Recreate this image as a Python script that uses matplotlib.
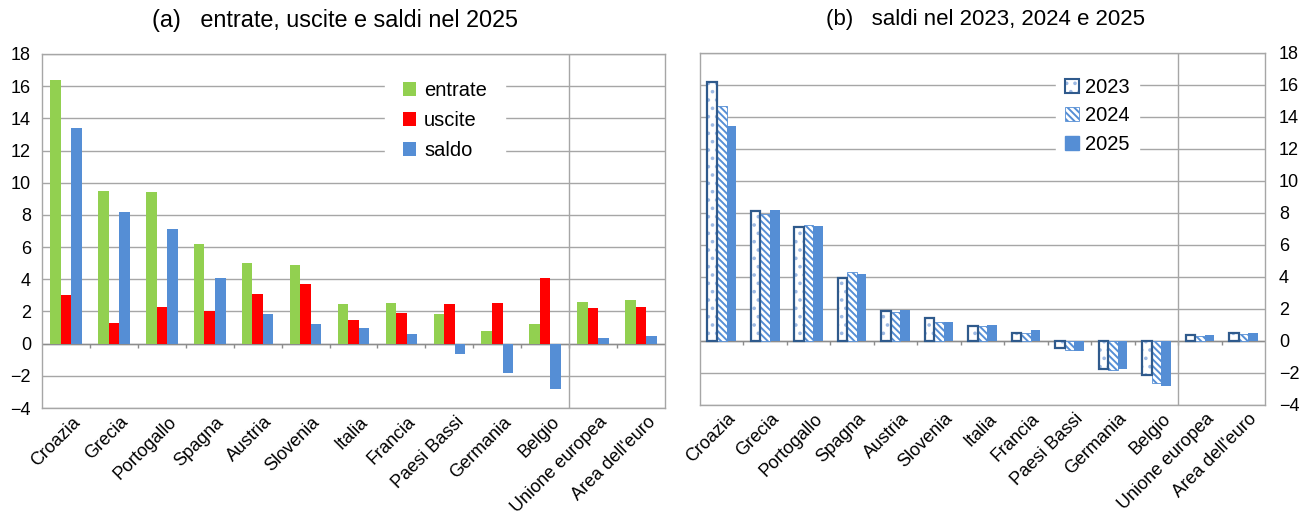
import numpy as np
import matplotlib
matplotlib.use("Agg")
import matplotlib.pyplot as plt
from matplotlib.patches import Patch

plt.rcParams['font.family'] = ['Liberation Sans', 'DejaVu Sans']
plt.rcParams['hatch.linewidth'] = 1.4

paesi = ['Croazia', 'Grecia', 'Portogallo', 'Spagna', 'Austria', 'Slovenia',
         'Italia', 'Francia', 'Paesi Bassi', 'Germania', 'Belgio',
         'Unione europea', "Area dell'euro"]

# panel (a): 2025
entrate = [16.4, 9.5, 9.45, 6.2, 5.0, 4.9, 2.45, 2.55, 1.85, 0.8, 1.25, 2.6, 2.7]
uscite = [3.0, 1.3, 2.3, 2.0, 3.1, 3.7, 1.45, 1.9, 2.45, 2.55, 4.05, 2.2, 2.25]
saldo = [13.4, 8.15, 7.1, 4.1, 1.85, 1.2, 0.95, 0.6, -0.62, -1.8, -2.8, 0.35, 0.45]

# panel (b): saldi
saldo_2023 = [16.2, 8.1, 7.1, 3.95, 1.85, 1.4, 0.95, 0.5, -0.45, -1.75, -2.15, 0.38, 0.5]
saldo_2024 = [14.65, 7.95, 7.25, 4.3, 1.8, 1.17, 0.94, 0.5, -0.55, -1.82, -2.65, 0.32, 0.45]
saldo_2025 = [13.4, 8.15, 7.15, 4.15, 1.95, 1.2, 1.0, 0.7, -0.63, -1.78, -2.82, 0.38, 0.5]

GREEN = '#92D050'
RED = '#FF0000'
BLUE = '#558ED5'
LIGHT = '#9DB9E3'
DARK = '#2F5A8C'
GRID = '#A6A6A6'


def style_axes(ax, right=False):
    ax.set_xlim(-0.5, len(paesi) - 0.5)
    ax.set_ylim(-4, 18)
    ax.set_yticks(range(-4, 19, 2))
    ax.grid(axis='y', color=GRID, linewidth=1)
    ax.set_axisbelow(True)
    for s in ax.spines.values():
        s.set_color(GRID)
        s.set_linewidth(1)
    ax.axhline(0, color='#8C8C8C', linewidth=1, zorder=1)
    bounds = np.arange(len(paesi) - 1) + 0.5
    ax.vlines(bounds, -0.25, 0, color='#8C8C8C', linewidth=1, zorder=1)
    ax.axvline(10.5, color=GRID, linewidth=1, zorder=1)
    ax.set_xticks(np.arange(len(paesi)) + 0.12)
    ax.set_xticklabels(paesi, rotation=45, ha='right', rotation_mode='anchor',
                       fontsize=13)
    ax.tick_params(axis='x', length=0, pad=4)
    ax.tick_params(axis='y', length=0, labelsize=13, pad=8)
    if right:
        ax.yaxis.tick_right()
        ax.tick_params(axis='y', pad=10)


fig = plt.figure(figsize=(13.05, 5.17), dpi=100)
ax1 = fig.add_axes([0.0322, 0.2108, 0.4774, 0.6848])
ax2 = fig.add_axes([0.5364, 0.2172, 0.4330, 0.6808])

x = np.arange(len(paesi))
w = 0.22

ax1.bar(x - w, entrate, w, color=GREEN, zorder=2, label='entrate')
ax1.bar(x, uscite, w, color=RED, zorder=2, label='uscite')
ax1.bar(x + w, saldo, w, color=BLUE, zorder=2, label='saldo')
style_axes(ax1)
ax1.legend(loc='upper left', bbox_to_anchor=(0.55, 0.975), fontsize=14.5,
           frameon=True, framealpha=1, facecolor='white', edgecolor='white',
           fancybox=False, handlelength=0.65, handleheight=0.65,
           handletextpad=0.4, labelspacing=0.55, borderpad=0.9,
           borderaxespad=0)

# panel b
ax2.bar(x - w, saldo_2023, w, facecolor='white', edgecolor=LIGHT,
        hatch='..', linewidth=0, zorder=2)
ax2.bar(x - w, saldo_2023, w, fill=False, edgecolor=DARK, linewidth=1.6, zorder=3)
ax2.bar(x, saldo_2024, w, facecolor='white', edgecolor=BLUE,
        hatch='\\\\\\\\\\', linewidth=0.6, zorder=2)
ax2.bar(x + w, saldo_2025, w, color=BLUE, zorder=2)
style_axes(ax2, right=True)

h2023 = (Patch(facecolor='white', edgecolor=LIGHT, hatch='..', linewidth=0),
         Patch(fill=False, edgecolor=DARK, linewidth=1.5))
h2024 = Patch(facecolor='white', edgecolor=BLUE, hatch='\\\\\\\\\\', linewidth=0.6)
h2025 = Patch(facecolor=BLUE, edgecolor=BLUE)
ax2.legend([h2023, h2024, h2025], ['2023', '2024', '2025'],
           loc='upper left', bbox_to_anchor=(0.63, 0.955), fontsize=14.5,
           frameon=True, framealpha=1, facecolor='white', edgecolor='white',
           fancybox=False, handlelength=0.7, handleheight=0.7,
           handletextpad=0.3, labelspacing=0.48, borderpad=0.45,
           borderaxespad=0)

fig.text(335 / 1305, 1 - 20 / 517, '(a)   entrate, uscite e saldi nel 2025',
         ha='center', va='center', fontsize=16.8)
fig.text(985 / 1305, 1 - 20 / 517, '(b)   saldi nel 2023, 2024 e 2025',
         ha='center', va='center', fontsize=16)

fig.savefig('out.png', dpi=100)
